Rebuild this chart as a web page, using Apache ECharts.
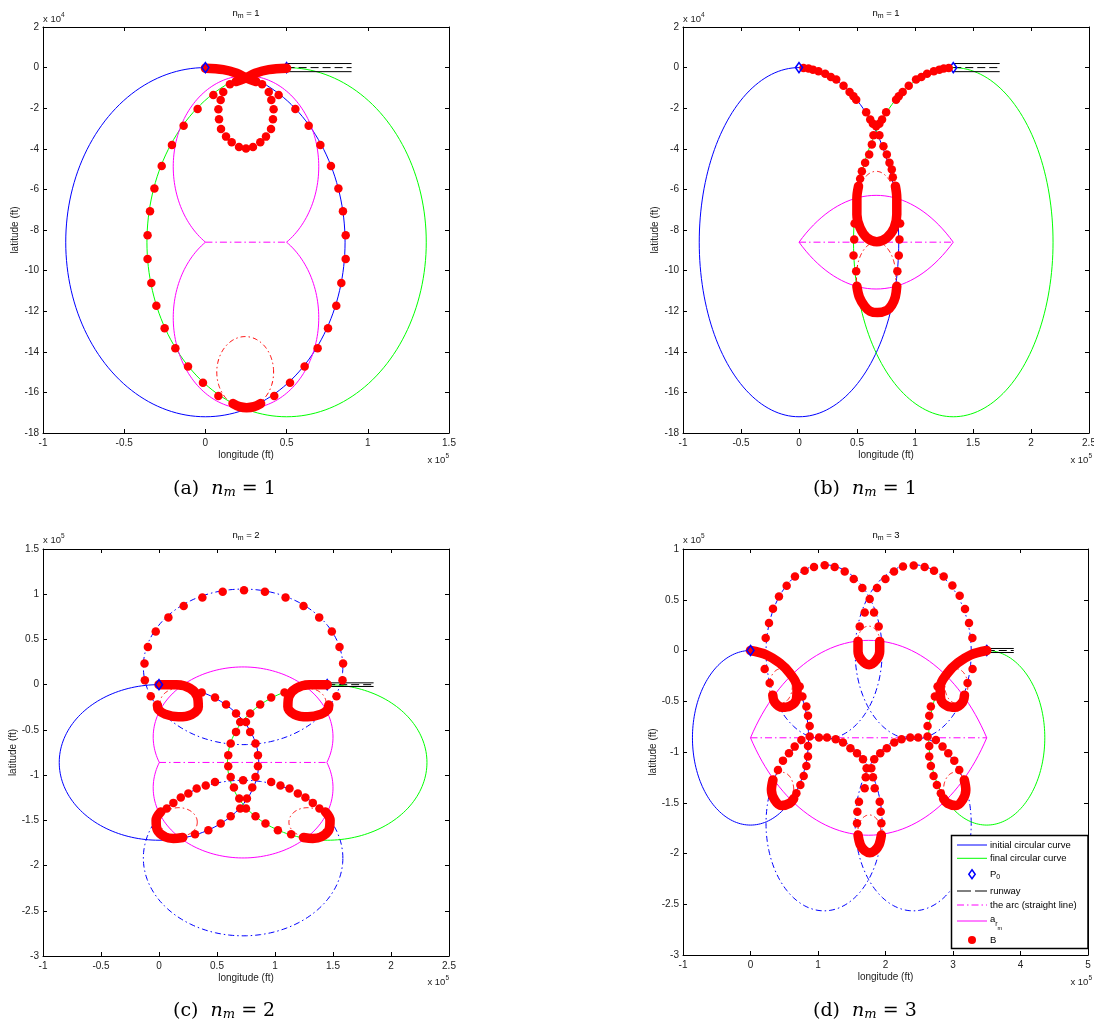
<!DOCTYPE html>
<html>
<head>
<meta charset="utf-8">
<title>approach trajectories</title>
<script src="https://cdn.jsdelivr.net/npm/echarts@6/dist/echarts.min.js"></script>
<style>
  html, body { margin: 0; padding: 0; background: #fff; }
  #chart { width: 1094px; height: 1026px; }
</style>
</head>
<body>
<div id="chart"></div>
<script>
// axis ranges: [min, max, step]  (x in 1e5 ft, y in 1e4 ft for a/b, 1e5 ft for c/d)
const xTicksA = [-1, 1.5, 0.5];
const yTicksA = [-18, 2, 2];
const xTicksB = [-1, 2.5, 0.5];
const yTicksB = [-18, 2, 2];
const xTicksC = [-1, 2.5, 0.5];
const yTicksC = [-3, 1.5, 0.5];
const xTicksD = [-1, 5, 1];
const yTicksD = [-3, 1, 0.5];

// circles / arcs: [cx, cy, rx, ry, startDeg, endDeg]
const initialA = [[0, -8.6, 0.86, 8.6, 0, 360]];
const finalA = [[0.5, -8.6, 0.86, 8.6, 0, 360]];
const magArcA = [[0.25, -4.88, 0.448, 4.48, -56.1, 236.1], [0.25, -12.32, 0.448, 4.48, 123.9, 416.1]];
const redCircA = [[0.245, -15.0, 0.175, 1.75, 0, 360]];
const arcLineA = [[0, -8.6], [0.5, -8.6]];
const runwayXA = [0.5, 0.9];
const runwayYA = [0.2, 0, -0.2];
const startA = [[0, 0]];
const endA = [[0.5, 0]];
const dotsA = [
  [0.151, -0.82], [0.11, -1.2], [0.094, -1.6], [0.08, -2.05], [0.084, -2.55], [0.096, -3.02], [0.127, -3.4],
  [0.162, -3.68], [0.207, -3.91], [0.25, -3.98], [0.293, -3.91], [0.338, -3.68], [0.373, -3.4], [0.404, -3.02],
  [0.416, -2.55], [0.42, -2.05], [0.406, -1.6], [0.39, -1.2], [0.349, -0.82],
  [0.049, -1.35], [-0.048, -2.04], [-0.134, -2.86], [-0.206, -3.81], [-0.269, -4.85], [-0.314, -5.95],
  [-0.341, -7.08], [-0.356, -8.26], [-0.356, -9.43], [-0.333, -10.61], [-0.302, -11.73], [-0.251, -12.84],
  [-0.185, -13.83], [-0.107, -14.72], [-0.015, -15.52], [0.08, -16.18],
  [0.451, -1.35], [0.554, -2.04], [0.636, -2.86], [0.708, -3.81], [0.773, -4.85], [0.819, -5.95],
  [0.847, -7.08], [0.864, -8.26], [0.864, -9.43], [0.837, -10.61], [0.806, -11.73], [0.755, -12.84],
  [0.691, -13.83], [0.611, -14.72], [0.521, -15.52], [0.424, -16.18]
];
const wormsA = [
  [[0, -0.03], [0.11, -0.1], [0.193, -0.28], [0.258, -0.53], [0.31, -0.68]],
  [[0.5, -0.03], [0.39, -0.1], [0.307, -0.28], [0.242, -0.53], [0.19, -0.68]],
  [[0.17, -16.55], [0.21, -16.7], [0.254, -16.75], [0.3, -16.7], [0.34, -16.55]]
];

const initialB = [[0, -8.6, 0.86, 8.6, 0, 360]];
const finalB = [[1.33, -8.6, 0.86, 8.6, 0, 360]];
const magArcB = [[0.665, -17.02, 1.0727, 10.727, 51.7, 128.3], [0.665, -0.18, 1.0727, 10.727, 231.7, 308.3]];
const redCircB = [[0.665, -6.81, 0.17, 1.7, 0, 360], [0.665, -10.3, 0.17, 1.7, 0, 360]];
const arcLineB = [[0, -8.6], [1.33, -8.6]];
const runwayXB = [1.33, 1.73];
const runwayYB = [0.2, 0, -0.2];
const startB = [[0, 0]];
const endB = [[1.33, 0]];
const dotsB = [
  [0.039, -0.02], [0.082, -0.05], [0.12, -0.1], [0.168, -0.18], [0.226, -0.3], [0.275, -0.46], [0.321, -0.59],
  [0.384, -0.89], [0.436, -1.2], [0.47, -1.41], [0.493, -1.58], [0.579, -2.2], [0.614, -2.56], [0.637, -2.76], [0.665, -2.89],
  [1.291, -0.02], [1.248, -0.05], [1.21, -0.1], [1.162, -0.18], [1.104, -0.3], [1.055, -0.46], [1.009, -0.59],
  [0.946, -0.89], [0.894, -1.2], [0.86, -1.41], [0.837, -1.58], [0.751, -2.2], [0.716, -2.56], [0.693, -2.76],
  [0.642, -3.33], [0.693, -3.33],
  [0.628, -3.79], [0.605, -4.28], [0.57, -4.69], [0.542, -5.11], [0.527, -5.47],
  [0.728, -3.88], [0.757, -4.28], [0.78, -4.69], [0.8, -5.02], [0.809, -5.4],
  [0.479, -7.68], [0.476, -8.47], [0.47, -9.26], [0.493, -10.03],
  [0.872, -7.68], [0.866, -8.47], [0.86, -9.26], [0.848, -10.03]
];
const wormsB = [
  [[0.513, -5.84], [0.499, -6.42], [0.499, -7.24], [0.527, -7.9], [0.585, -8.38], [0.671, -8.58],
   [0.757, -8.38], [0.82, -7.9], [0.843, -7.24], [0.843, -6.42], [0.831, -5.84]],
  [[0.499, -10.77], [0.52, -11.3], [0.565, -11.75], [0.613, -12.0], [0.676, -12.07], [0.757, -11.96],
   [0.8, -11.7], [0.83, -11.3], [0.843, -10.77]]
];

const initialC = [[0, -0.86, 0.86, 0.86, 0, 360]];
const finalC = [[1.45, -0.86, 0.86, 0.86, 0, 360]];
const blueDashC = [[0.725, 0.197, 0.86, 0.86, 0, 360], [0.725, -1.917, 0.86, 0.86, 0, 360]];
const magArcC = [[0.725, -0.579, 0.775, 0.775, -21.2, 201.2], [0.725, -1.141, 0.775, 0.775, 158.8, 381.2]];
const redCircC = [[0.17, -0.2, 0.16, 0.16, 0, 360], [1.28, -0.2, 0.16, 0.16, 0, 360],
                  [0.17, -1.52, 0.16, 0.16, 0, 360], [1.28, -1.52, 0.16, 0.16, 0, 360]];
const arcLineC = [[0, -0.86], [1.45, -0.86]];
const runwayXC = [1.45, 1.85];
const runwayYC = [0.02, 0, -0.02];
const startC = [[0, 0]];
const endC = [[1.45, 0]];
const dotsC = [
  [-0.125, 0.235], [-0.096, 0.416], [-0.028, 0.589], [0.081, 0.744], [0.213, 0.869], [0.374, 0.965], [0.549, 1.028],
  [0.733, 1.043], [0.913, 1.028], [1.091, 0.965], [1.246, 0.869], [1.381, 0.744], [1.49, 0.589], [1.556, 0.416],
  [1.587, 0.235], [1.582, 0.05], [1.53, -0.127], [-0.122, 0.05], [-0.071, -0.127],
  [0.368, -0.086], [0.483, -0.141], [0.578, -0.219], [0.664, -0.318], [0.7, -0.414], [0.75, -0.414],
  [1.082, -0.086], [0.967, -0.141], [0.872, -0.219], [0.786, -0.318],
  [0.664, -0.522], [0.618, -0.65], [0.597, -0.78], [0.597, -0.901], [0.618, -1.02], [0.646, -1.137], [0.692, -1.259],
  [0.786, -0.522], [0.832, -0.65], [0.853, -0.78], [0.853, -0.901], [0.832, -1.02], [0.804, -1.137], [0.758, -1.259],
  [0.7, -1.369], [0.75, -1.369],
  [0.067, -1.369], [0.124, -1.307], [0.188, -1.248], [0.253, -1.203], [0.325, -1.148], [0.403, -1.115], [0.483, -1.075],
  [0.725, -1.058], [0.967, -1.075], [1.047, -1.115], [1.125, -1.148], [1.197, -1.203], [1.262, -1.248], [1.326, -1.307], [1.383, -1.369],
  [0.311, -1.654], [0.425, -1.609], [0.532, -1.535], [0.618, -1.455],
  [1.139, -1.654], [1.025, -1.609], [0.918, -1.535], [0.832, -1.455]
];
const wormsC = [
  [[0, 0], [0.153, -0.002], [0.268, -0.04], [0.331, -0.134], [0.339, -0.245], [0.282, -0.33], [0.167, -0.356],
   [0.052, -0.326], [-0.005, -0.274], [-0.014, -0.226]],
  [[1.45, 0], [1.297, -0.002], [1.182, -0.04], [1.119, -0.134], [1.111, -0.245], [1.168, -0.33], [1.283, -0.356],
   [1.398, -0.326], [1.455, -0.274], [1.464, -0.226]],
  [[0.015, -1.407], [-0.025, -1.499], [-0.014, -1.609], [0.052, -1.683], [0.124, -1.701], [0.205, -1.69]],
  [[1.435, -1.407], [1.475, -1.499], [1.464, -1.609], [1.398, -1.683], [1.326, -1.701], [1.245, -1.69]]
];

const initialD = [[0, -0.86, 0.86, 0.86, 0, 360]];
const finalD = [[3.5, -0.86, 0.86, 0.86, 0, 360]];
const blueDashD = [[1.09, -0.015, 0.86, 0.86, 0, 360], [2.41, -0.015, 0.86, 0.86, 0, 360],
                   [1.09, -1.705, 0.86, 0.86, 0, 360], [2.41, -1.705, 0.86, 0.86, 0, 360]];
const magArcD = [[1.75, -1.975, 2.075, 2.075, 32.5, 147.5], [1.75, 0.255, 2.075, 2.075, 212.5, 327.5]];
const redCircD = [[0.45, -0.35, 0.17, 0.17, 0, 360], [3.05, -0.35, 0.17, 0.17, 0, 360],
                  [0.47, -1.37, 0.17, 0.17, 0, 360], [3.03, -1.37, 0.17, 0.17, 0, 360],
                  [1.75, 0.07, 0.17, 0.17, 0, 360], [1.76, -1.79, 0.17, 0.17, 0, 360]];
const arcLineD = [[0, -0.86], [3.5, -0.86]];
const runwayXD = [3.5, 3.9];
const runwayYD = [0.02, 0, -0.02];
const startD = [[0, 0]];
const endD = [[3.5, 0]];
const dotsD = [
  [0.225, 0.122], [0.274, 0.27], [0.333, 0.412], [0.422, 0.533], [0.536, 0.638], [0.659, 0.73], [0.802, 0.786],
  [0.941, 0.822], [1.099, 0.839], [1.247, 0.822], [1.396, 0.779], [1.529, 0.704], [1.657, 0.615], [1.766, 0.507],
  [1.874, 0.615], [1.999, 0.704], [2.126, 0.779], [2.259, 0.828], [2.418, 0.838], [2.58, 0.822], [2.719, 0.786],
  [2.862, 0.73], [2.991, 0.641], [3.099, 0.539], [3.178, 0.408], [3.237, 0.27], [3.287, 0.122],
  [0.21, -0.183], [0.284, -0.321], [3.29, -0.183], [3.216, -0.321],
  [1.692, 0.375], [1.618, 0.237], [1.83, 0.375], [1.899, 0.237],
  [0.729, -0.355], [0.769, -0.454], [0.828, -0.552], [0.852, -0.644], [0.877, -0.743], [0.877, -0.848],
  [0.852, -0.94], [0.852, -1.045], [0.828, -1.137], [0.788, -1.236], [0.739, -1.324], [0.68, -1.406],
  [2.771, -0.355], [2.731, -0.454], [2.672, -0.552], [2.648, -0.644], [2.623, -0.743], [2.623, -0.848],
  [2.648, -0.94], [2.648, -1.045], [2.672, -1.137], [2.712, -1.236], [2.761, -1.324], [2.82, -1.406],
  [1.015, -0.858], [1.133, -0.858], [1.262, -0.874], [1.37, -0.907], [1.48, -0.963], [1.578, -1.012], [1.667, -1.071],
  [2.485, -0.858], [2.367, -0.858], [2.238, -0.874], [2.13, -0.907], [2.02, -0.963], [1.922, -1.012], [1.833, -1.071],
  [1.72, -1.16], [1.79, -1.16], [1.707, -1.249], [1.815, -1.249],
  [0.754, -0.881], [0.655, -0.947], [0.57, -1.012], [0.481, -1.085], [0.407, -1.177],
  [2.746, -0.881], [2.845, -0.947], [2.93, -1.012], [3.019, -1.085], [3.093, -1.177],
  [1.692, -1.357], [1.607, -1.489], [1.583, -1.588], [1.578, -1.702],
  [1.84, -1.357], [1.914, -1.489], [1.929, -1.588], [1.939, -1.702]
];
const wormsD = [
  [[0, 0], [0.236, -0.042], [0.433, -0.124], [0.581, -0.223], [0.69, -0.36], [0.68, -0.48], [0.58, -0.55],
   [0.47, -0.56], [0.359, -0.51], [0.33, -0.44]],
  [[3.5, 0], [3.264, -0.042], [3.067, -0.124], [2.919, -0.223], [2.81, -0.36], [2.82, -0.48], [2.92, -0.55],
   [3.03, -0.56], [3.141, -0.51], [3.17, -0.44]],
  [[0.333, -1.275], [0.31, -1.374], [0.359, -1.473], [0.458, -1.528], [0.581, -1.505], [0.64, -1.46]],
  [[3.167, -1.275], [3.19, -1.374], [3.141, -1.473], [3.042, -1.528], [2.919, -1.505], [2.86, -1.46]],
  [[1.593, 0.089], [1.593, -0.01], [1.643, -0.092], [1.756, -0.141], [1.865, -0.092], [1.914, -0.01], [1.914, 0.089]],
  [[1.593, -1.818], [1.628, -1.916], [1.692, -1.972], [1.766, -1.992], [1.84, -1.972], [1.904, -1.916], [1.939, -1.818]]
];

const SANS = '"Liberation Sans", Arial, Helvetica, sans-serif';
const SERIF = '"DejaVu Serif", serif';
const BLUE = '#0000ff', GREEN = '#00ff00', MAGENTA = '#ff00ff', RED = '#ff0000';
const DASHDOT = [6, 3, 1.5, 3];

const panels = [
  { xt: xTicksA, yt: yTicksA, yGap: 22, initial: initialA, final: finalA, blueDash: [], magArc: magArcA, redCirc: redCircA,
    arcLine: arcLineA, runX: runwayXA, runY: runwayYA, start: startA, end: endA, dots: dotsA, worms: wormsA },
  { xt: xTicksB, yt: yTicksB, yGap: 22, initial: initialB, final: finalB, blueDash: [], magArc: magArcB, redCirc: redCircB,
    arcLine: arcLineB, runX: runwayXB, runY: runwayYB, start: startB, end: endB, dots: dotsB, worms: wormsB },
  { xt: xTicksC, yt: yTicksC, yGap: 25, initial: initialC, final: finalC, blueDash: blueDashC, magArc: magArcC, redCirc: redCircC,
    arcLine: arcLineC, runX: runwayXC, runY: runwayYC, start: startC, end: endC, dots: dotsC, worms: wormsC },
  { xt: xTicksD, yt: yTicksD, yGap: 25, initial: initialD, final: finalD, blueDash: blueDashD, magArc: magArcD, redCirc: redCircD,
    arcLine: arcLineD, runX: runwayXD, runY: runwayYD, start: startD, end: endD, dots: dotsD, worms: wormsD }
];

const grids = [
  { left: 43, top: 27, width: 406, height: 406 },
  { left: 683, top: 27, width: 406, height: 406 },
  { left: 43, top: 549, width: 406, height: 407 },
  { left: 683, top: 549, width: 405, height: 406 }
];

const axisCommon = {
  type: 'value',
  axisLine: { show: true, onZero: false, lineStyle: { color: '#000', width: 1 } },
  axisTick: { show: true, inside: true, length: 4, lineStyle: { color: '#000' } },
  splitLine: { show: false }
};
const labelStyle = { color: '#222', fontSize: 10, fontFamily: SANS };

const xAxis = [], yAxis = [], series = [];

// ellipse arcs drawn through the axes of grid g
function ellipses(g, data, color, dash) {
  return {
    type: 'custom', xAxisIndex: 2 * g, yAxisIndex: 2 * g, z: 2, silent: true,
    dimensions: ['cx', 'cy', 'rx', 'ry', 'a0', 'a1'], encode: { x: 'cx', y: 'cy' },
    data: data,
    renderItem: function (params, api) {
      const cx = api.value(0), cy = api.value(1), rx = api.value(2), ry = api.value(3);
      const a0 = api.value(4), a1 = api.value(5);
      const n = Math.max(16, Math.round(Math.abs(a1 - a0) / 2));
      const pts = [];
      for (let k = 0; k <= n; k++) {
        const t = (a0 + (a1 - a0) * k / n) * Math.PI / 180;
        pts.push(api.coord([cx + rx * Math.cos(t), cy + ry * Math.sin(t)]));
      }
      return { type: 'polyline', shape: { points: pts },
               style: { stroke: color, fill: null, lineWidth: 1, lineDash: dash || null } };
    }
  };
}

function segment(g, pts, color, dash) {
  return { type: 'line', xAxisIndex: 2 * g, yAxisIndex: 2 * g, data: pts, symbol: 'none', silent: true, z: 2,
           lineStyle: { color: color, width: 1, type: dash || 'solid' } };
}

function diamonds(g, pts, z) {
  return { type: 'scatter', xAxisIndex: 2 * g, yAxisIndex: 2 * g, data: pts, symbol: 'diamond', symbolSize: [7, 10],
           silent: true, z: z, itemStyle: { color: 'rgba(0,0,0,0)', borderColor: BLUE, borderWidth: 1.6, opacity: 1 } };
}

panels.forEach(function (p, g) {
  xAxis.push(Object.assign({}, axisCommon, {
    gridIndex: g, position: 'bottom', min: p.xt[0], max: p.xt[1], interval: p.xt[2],
    axisLabel: Object.assign({ margin: 5 }, labelStyle),
    name: 'longitude (ft)', nameLocation: 'middle', nameGap: 17, nameTextStyle: labelStyle
  }));
  xAxis.push(Object.assign({}, axisCommon, {
    gridIndex: g, position: 'top', min: p.xt[0], max: p.xt[1], interval: p.xt[2], axisLabel: { show: false }
  }));
  yAxis.push(Object.assign({}, axisCommon, {
    gridIndex: g, position: 'left', min: p.yt[0], max: p.yt[1], interval: p.yt[2],
    axisLabel: Object.assign({ margin: 4 }, labelStyle),
    name: 'latitude (ft)', nameLocation: 'middle', nameGap: p.yGap, nameRotate: 90, nameTextStyle: labelStyle
  }));
  yAxis.push(Object.assign({}, axisCommon, {
    gridIndex: g, position: 'right', min: p.yt[0], max: p.yt[1], interval: p.yt[2], axisLabel: { show: false }
  }));

  if (p.blueDash.length) series.push(ellipses(g, p.blueDash, BLUE, DASHDOT));
  series.push(ellipses(g, p.initial, BLUE));
  series.push(ellipses(g, p.final, GREEN));
  series.push(ellipses(g, p.magArc, MAGENTA));
  series.push(segment(g, p.arcLine, MAGENTA, [7, 3, 1.5, 3]));
  series.push(ellipses(g, p.redCirc, RED, [5, 3, 1.5, 3]));
  p.runY.forEach(function (y) {
    series.push(segment(g, [[p.runX[0], y], [p.runX[1], y]], '#000', y === 0 ? [8, 4] : 'solid'));
  });
  series.push(diamonds(g, p.end, 2));
  series.push({ type: 'scatter', xAxisIndex: 2 * g, yAxisIndex: 2 * g, data: p.dots, symbol: 'circle',
                symbolSize: 8.5, silent: true, z: 3, itemStyle: { color: RED, opacity: 1 } });
  p.worms.forEach(function (w) {
    series.push({ type: 'line', xAxisIndex: 2 * g, yAxisIndex: 2 * g, data: w, symbol: 'none', smooth: 0.35,
                  silent: true, z: 3, lineStyle: { color: RED, width: 9.5, cap: 'round', join: 'round', opacity: 1 } });
  });
  series.push(diamonds(g, p.start, 4));
});

// text runs with sub/superscripts
const mctx = document.createElement('canvas').getContext('2d');
function fontOf(part) { return (part[3] ? 'italic ' : '') + part[1] + 'px ' + (part[4] || SANS); }
function textRun(x, y, parts, anchor) {
  const widths = parts.map(function (pt) { mctx.font = fontOf(pt); return mctx.measureText(pt[0]).width; });
  const total = widths.reduce(function (a, b) { return a + b; }, 0);
  let cx = anchor === 'center' ? x - total / 2 : anchor === 'right' ? x - total : x;
  return parts.map(function (pt, k) {
    const el = { type: 'text', x: cx, y: y + pt[2], z: 100, silent: true,
                 style: { text: pt[0], font: fontOf(pt), fill: pt[5] || '#000', textAlign: 'left', textVerticalAlign: 'middle',
                          align: 'left', verticalAlign: 'middle' } };
    cx += widths[k];
    return el;
  });
}

const graphics = [];
const titles = ['1', '1', '2', '3'];
const letters = ['a', 'b', 'c', 'd'];
const expTop = ['4', '4', '5', '5'];
const centers = [[246, 13], [886, 13], [246, 535], [886, 535]];
const corners = [[43, 19, 449, 460], [683, 19, 1092, 460], [43, 540, 449, 982], [683, 540, 1092, 982]];
const captions = [[173, 489], [813, 489], [173, 1011], [813, 1011]];

for (let i = 0; i < 4; i++) {
  graphics.push.apply(graphics, textRun(centers[i][0], centers[i][1],
    [['n', 9.5, 0], ['m', 7, 3], [' = ' + titles[i], 9.5, 0]], 'center'));
  graphics.push.apply(graphics, textRun(corners[i][0], corners[i][1],
    [['x 10', 9.5, 0, false, SANS, '#222'], [expTop[i], 6.5, -4, false, SANS, '#222']], 'left'));
  graphics.push.apply(graphics, textRun(corners[i][2], corners[i][3],
    [['x 10', 9.5, 0, false, SANS, '#222'], ['5', 6.5, -4, false, SANS, '#222']], 'right'));
  graphics.push.apply(graphics, textRun(captions[i][0], captions[i][1],
    [['(' + letters[i] + ')', 19, 0, false, SERIF], ['  ', 19, 0, false, SERIF], ['n', 19, 0, true, SERIF],
     ['m', 13, 4, true, SERIF], [' = ', 19, 0, false, SERIF], [titles[i], 19, 0, false, SERIF]], 'left'));
}

// legend of panel (d)
const lx0 = 957, lx1 = 987, tx = 990;
const rows = [845, 858.3, 874.3, 891, 905, 921, 940];
graphics.push({ type: 'rect', z: 100, silent: true, shape: { x: 951.5, y: 835.5, width: 136.5, height: 113 },
                style: { fill: '#fff', stroke: '#000', lineWidth: 1.5 } });
function legLine(y, color, dash) {
  return { type: 'line', z: 101, silent: true, shape: { x1: lx0, y1: y, x2: lx1, y2: y },
           style: { stroke: color, lineWidth: 1, lineDash: dash || null } };
}
graphics.push(legLine(rows[0], BLUE));
graphics.push(legLine(rows[1], GREEN));
graphics.push({ type: 'polygon', z: 101, silent: true,
                shape: { points: [[972, rows[2] - 4.5], [975.2, rows[2]], [972, rows[2] + 4.5], [968.8, rows[2]]] },
                style: { fill: null, stroke: BLUE, lineWidth: 1.5 } });
graphics.push(legLine(rows[3], '#000', [14, 4]));
graphics.push(legLine(rows[4], MAGENTA, [7, 3, 1.5, 3]));
graphics.push(legLine(rows[5], MAGENTA));
graphics.push({ type: 'circle', z: 101, silent: true, shape: { cx: 972, cy: rows[6], r: 4 }, style: { fill: RED } });
const legTexts = [
  [['initial circular curve', 9.5, 0]],
  [['final circular curve', 9.5, 0]],
  [['P', 9.5, 0], ['0', 7, 3]],
  [['runway', 9.5, 0]],
  [['the arc (straight line)', 9.5, 0]],
  [['a', 9.5, -2], ['r', 7, 3], ['m', 5.5, 7]],
  [['B', 9.5, 0]]
];
legTexts.forEach(function (parts, k) {
  textRun(tx, rows[k], parts, 'left').forEach(function (el) { el.z = 102; graphics.push(el); });
});

const chart = echarts.init(document.getElementById('chart'));
chart.setOption({
  backgroundColor: '#fff',
  animation: false,
  grid: grids.map(function (gr) { return Object.assign({ containLabel: false, outerBoundsMode: 'none' }, gr); }),
  xAxis: xAxis,
  yAxis: yAxis,
  series: series,
  graphic: { elements: graphics }
});
</script>
</body>
</html>
